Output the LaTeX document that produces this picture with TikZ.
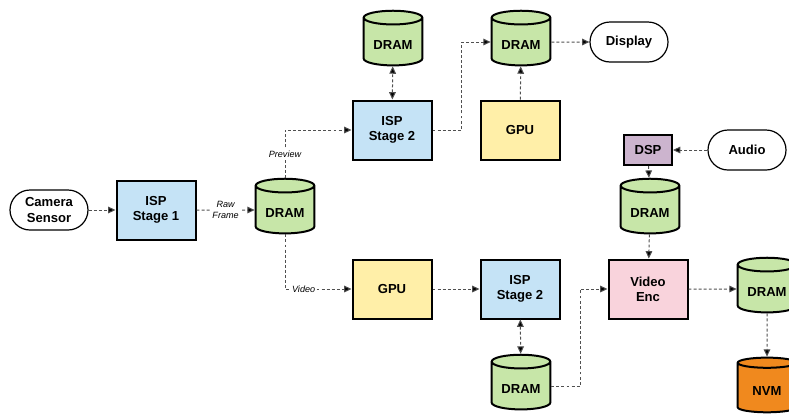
\documentclass[tikz,border=0pt]{standalone}
\usepackage{fontspec}
\setmainfont{Liberation Sans}
\usetikzlibrary{shapes.geometric,arrows.meta}

\definecolor{ispblue}{RGB}{197,227,246}
\definecolor{dramgreen}{RGB}{199,230,168}
\definecolor{gpuyellow}{RGB}{255,239,168}
\definecolor{encpink}{RGB}{249,211,220}
\definecolor{dsppurple}{RGB}{204,180,206}
\definecolor{nvmorange}{RGB}{240,137,30}
\definecolor{linkgray}{RGB}{80,80,80}

\newcommand{\cantext}[1]{\raisebox{-2.5pt}[\height][\depth]{#1}}

\tikzset{
  block/.style={draw=black,line width=1.5pt,minimum width=59.25pt,minimum height=44.25pt,align=center,font=\fontsize{9.8}{11.5}\selectfont\bfseries},
  can/.style={cylinder,shape border rotate=90,aspect=0.35,draw=black,line width=1.5pt,fill=dramgreen,minimum width=44pt,minimum height=41pt,inner sep=0pt,font=\fontsize{9.8}{11.5}\selectfont\bfseries},
  term/.style={draw=black,line width=0.9pt,rounded corners=15pt,fill=white,minimum width=58.5pt,minimum height=30pt,align=center,font=\fontsize{9.8}{11.5}\selectfont\bfseries},
  link/.style={draw=linkgray,line width=0.75pt,dash pattern=on 2.2pt off 1.6pt,-{Triangle[length=5.5pt,width=5pt,fill=black]}},
  link2/.style={link,{Triangle[length=5.5pt,width=5pt,fill=black]}-{Triangle[length=5.5pt,width=5pt,fill=black]}},
  tag/.style={fill=white,inner sep=1pt,align=center,font=\fontsize{6.8}{8}\selectfont\itshape}
}

\begin{document}
\begin{tikzpicture}[x=0.75pt,y=0.75pt,yscale=-1,xscale=1]
\clip (0,0) rectangle (789,415);
\fill[white] (0,0) rectangle (789,415);

%Shape: Terminals
\node[term] (camera) at (49,210) {Camera\\Sensor};
\node[term] (display) at (629,42) {Display};
\node[term] (audio) at (747,150) {Audio};

%Shape: Blocks
\node[block,fill=ispblue] (ispone) at (156,210) {ISP\\Stage 1};
\node[block,fill=ispblue] (isptop) at (392,130) {ISP\\Stage 2};
\node[block,fill=gpuyellow] (gputop) at (520,130) {GPU};
\node[block,fill=gpuyellow] (gpubot) at (392,289) {GPU};
\node[block,fill=ispblue] (ispbot) at (520,289) {ISP\\Stage 2};
\node[block,fill=encpink] (venc) at (648,289) {Video\\Enc};
\node[block,fill=dsppurple,minimum width=36pt,minimum height=22.5pt] (dsp) at (648,150) {DSP};

%Shape: Cans
\node[can] (drammid) at (285,210) {\cantext{DRAM}};
\node[can] (dramisp) at (393,42) {\cantext{DRAM}};
\node[can] (dramgpu) at (521,42) {\cantext{DRAM}};
\node[can] (dramdsp) at (650,210) {\cantext{DRAM}};
\node[can] (drambot) at (521,386) {\cantext{DRAM}};
\node[can] (dramenc) at (767,289) {\cantext{DRAM}};
\node[can,fill=nvmorange] (nvm) at (767,388) {\cantext{NVM}};

%Links
\draw[link] (camera) -- (ispone);
\draw[link] (ispone) -- node[tag] {Raw\\Frame} (drammid);
\draw[link] (drammid.north) |- node[tag,pos=0.25] {Preview} (isptop.west);
\draw[link] (drammid.south) |- node[tag,pos=0.64] {Video} (gpubot.west);
\draw[link2] (isptop) -- (dramisp);
\draw[link] (isptop.east) -- ++(29,0) |- (dramgpu.west);
\draw[link] (gputop) -- (dramgpu);
\draw[link] (dramgpu) -- (display);
\draw[link] (audio) -- (dsp);
\draw[link] (dsp) -- (dramdsp);
\draw[link] (dramdsp) -- (venc);
\draw[link] (gpubot) -- (ispbot);
\draw[link2] (ispbot) -- (drambot);
\draw[link] (drambot.east) -- ++(29,0) |- (venc.west);
\draw[link] (venc) -- (dramenc);
\draw[link] (dramenc) -- (nvm);

\end{tikzpicture}
\end{document}
